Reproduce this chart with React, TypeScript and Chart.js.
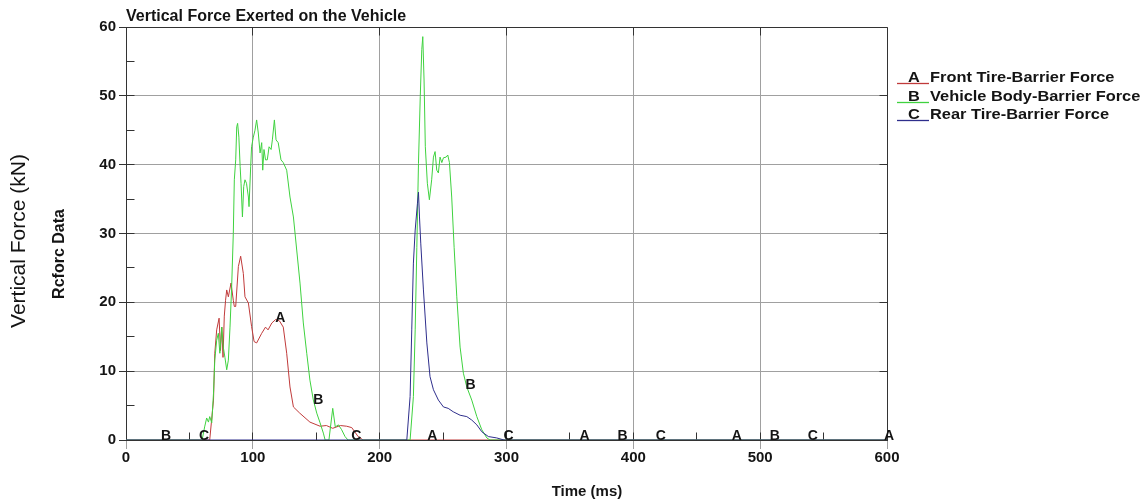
import React, { useEffect, useRef } from "react";
import { Chart, registerables } from "chart.js";

Chart.register(...registerables);

const FONT = "'Liberation Sans', Arial, Helvetica, sans-serif";

// ---- Data (time in ms, force in kN) ----
const frontTime = [0, 66, 69, 70, 71.5, 73.4, 74.5, 75.5, 76.5, 77.5, 78.5, 79.4, 80.7, 82.8, 84.6, 85.4, 86.5, 88.6, 90.4, 92.5, 93.8, 96.5, 99, 101, 103, 107, 110, 112, 115, 118, 121, 124, 126.7, 129.3, 132, 137, 145, 153, 158, 163, 169, 174, 178, 183, 187, 600];
const frontForce = [0, 0, 5.8, 12.6, 16, 17.7, 13, 16.4, 12, 18, 20.3, 21.8, 20.8, 22.8, 20.3, 19.4, 19.4, 25.2, 26.7, 24.2, 20.8, 19.9, 16.5, 14.3, 14.1, 15.5, 16.4, 16, 17, 17.5, 17.3, 16.4, 12.6, 7.7, 4.8, 3.9, 2.6, 2.0, 2.1, 1.7, 2.1, 2.0, 1.8, 0.5, 0, 0];

const bodyTime = [0, 60, 62, 63.6, 65, 66, 67.6, 69, 70, 71.5, 72.8, 74, 75.5, 76.7, 78, 79.4, 80.7, 82, 83.3, 84.6, 85.4, 86.5, 87.3, 88, 89, 90, 90.7, 91.8, 92.8, 93.8, 95, 96.5, 97, 98.3, 99, 100.4, 101.7, 103, 104.3, 105.7, 107, 107.8, 108.8, 110, 111.4, 112.8, 114.4, 115.4, 117, 118.3, 120, 122.2, 124, 126.7, 129.3, 132, 134.6, 137.2, 139.8, 142.5, 145, 147.7, 150.4, 153, 155.6, 157, 160, 163, 165, 167.5, 170, 172.7, 175, 224, 226.6, 228, 229.3, 230.6, 232, 233.2, 234, 235, 236, 237.6, 239.2, 241, 242.4, 243.7, 245, 246.3, 247.6, 249, 250.3, 252.4, 253.7, 255, 256.8, 258.7, 260.8, 263.4, 266, 268.7, 272.6, 276.6, 280.5, 284.5, 287, 600];
const bodyForce = [0, 0, 1.9, 3.2, 2.6, 3.4, 2.5, 6.8, 11.6, 14.5, 15.5, 12.6, 16.4, 13.5, 12, 10.2, 11.6, 16.4, 22.2, 30, 37.8, 40.7, 45.5, 46, 44, 39.7, 37.3, 32.4, 36.8, 37.8, 37.3, 35.3, 33.9, 39.7, 42.6, 44, 45, 46.5, 44.6, 41.7, 43.2, 39.2, 42.2, 40.7, 40.7, 42.6, 42.2, 43.6, 46.5, 43.6, 43.2, 40.7, 40.3, 39.2, 35.3, 32.4, 27.6, 22.8, 17, 12.6, 8.7, 5.8, 3.9, 2.5, 1.0, 0, 0, 4.6, 1.9, 2.2, 1.5, 0.5, 0, 0, 6.3, 16, 28, 40.2, 49.9, 56.7, 58.6, 52.3, 42.6, 37.3, 34.9, 37.8, 41.1, 41.9, 39.2, 38.8, 41.1, 40.3, 41, 41.1, 41.4, 40.3, 35.3, 28, 20.8, 13.5, 9.7, 7.7, 5.8, 3.4, 1.5, 0.3, 0, 0];

const rearTime = [0, 221.4, 224, 225.3, 226.6, 228, 229.8, 230.6, 231.4, 232.4, 234.5, 237.2, 239.7, 242.4, 246.3, 250.3, 254, 258, 263.4, 268.7, 272.6, 276.6, 280.5, 285.7, 292.3, 298, 600];
const rearForce = [0, 0, 6.3, 16, 25.7, 30.5, 34.4, 36, 32.4, 28.6, 21.8, 14.1, 9.2, 7.3, 5.8, 4.8, 4.6, 4.1, 3.6, 3.4, 2.9, 2.2, 1.2, 0.5, 0.3, 0, 0];

const seriesLetters = ["A", "B", "C"];
const seriesNames = ["Front Tire-Barrier Force", "Vehicle Body-Barrier Force", "Rear Tire-Barrier Force"];
const seriesColors = ["#c03a3a", "#3fd23f", "#2e2e8c"];

// symbol labels placed along each curve (time, level of label foot)
const markerTimesA = [120, 240, 360, 480, 600];
const markerLevelsA = [17.0, 0, 0, 0, 0];
const markerTimesB = [30, 150, 270, 390, 510];
const markerLevelsB = [0, 5.2, 7.3, 0, 0];
const markerTimesC = [60, 180, 300, 420, 540];
const markerLevelsC = [0, 0, 0, 0, 0];

const xMin = 0, xMax = 600, xStep = 100, xMinorStep = 50;
const yMin = 0, yMax = 60, yStep = 10, yMinorStep = 5;

const titleText = "Vertical Force Exerted on the Vehicle";
const yTitleOuter = "Vertical Force (kN)";
const yTitleInner = "Rcforc Data";
const xTitleText = "Time (ms)";

const TEXT = "#141414";
const FRAME = "#333333";
const GRID = "#a0a0a0";

function align(p: number) {
  return Math.round(p - 0.5) + 0.5;
}

const framePlugin = {
  id: "frameTicks",
  beforeDatasetsDraw(chart: any) {
    const { ctx, chartArea: a, scales } = chart;
    const x = scales.x, y = scales.y;
    const L = align(a.left), R = align(a.right), T = align(a.top), B = align(a.bottom);
    ctx.save();
    ctx.strokeStyle = FRAME;
    ctx.lineWidth = 1;
    ctx.beginPath();
    ctx.moveTo(L, T); ctx.lineTo(R, T); ctx.lineTo(R, B); ctx.lineTo(L, B); ctx.closePath();
    ctx.stroke();
    const tl = 8;
    ctx.beginPath();
    for (let v = yMin + yMinorStep; v < yMax; v += yMinorStep) {
      const py = align(y.getPixelForValue(v));
      ctx.moveTo(L, py); ctx.lineTo(L + tl, py);
      if (v % yStep === 0) { ctx.moveTo(R, py); ctx.lineTo(R - tl, py); }
    }
    for (let v = xMin + xMinorStep; v < xMax; v += xMinorStep) {
      const px = align(x.getPixelForValue(v));
      ctx.moveTo(px, B); ctx.lineTo(px, B - tl);
      if (v % xStep === 0) { ctx.moveTo(px, T); ctx.lineTo(px, T + tl); }
    }
    ctx.stroke();
    ctx.restore();
  },
  afterDraw(chart: any) {
    const { ctx, scales } = chart;
    const x = scales.x, y = scales.y;
    ctx.save();
    ctx.fillStyle = TEXT;
    // title
    ctx.font = `bold 16px ${FONT}`;
    ctx.textAlign = "left";
    ctx.textBaseline = "alphabetic";
    ctx.fillText(titleText, 126, 21);
    // x title
    ctx.font = `bold 15px ${FONT}`;
    ctx.textAlign = "center";
    ctx.fillText(xTitleText, 587, 496);
    // y titles
    ctx.save();
    ctx.translate(25, 241);
    ctx.rotate(-Math.PI / 2);
    ctx.font = `21px ${FONT}`;
    ctx.textAlign = "center";
    ctx.fillText(yTitleOuter, 0, 0);
    ctx.restore();
    ctx.save();
    ctx.translate(64, 254);
    ctx.rotate(-Math.PI / 2);
    ctx.font = `bold 16px ${FONT}`;
    ctx.textAlign = "center";
    ctx.fillText(yTitleInner, 0, 0);
    ctx.restore();
    // curve symbol letters
    const markers = [
      [markerTimesA, markerLevelsA],
      [markerTimesB, markerLevelsB],
      [markerTimesC, markerLevelsC],
    ];
    ctx.font = `bold 14px ${FONT}`;
    ctx.textAlign = "center";
    markers.forEach((m, i) => {
      const [ts, ls] = m;
      ts.forEach((t, k) => {
        ctx.fillText(seriesLetters[i], x.getPixelForValue(t) + 2, y.getPixelForValue(ls[k]) - 0.5);
      });
    });
    // legend
    const baselines = [82, 101, 119];
    seriesNames.forEach((name, i) => {
      const b = baselines[i];
      ctx.strokeStyle = seriesColors[i];
      ctx.lineWidth = 1.3;
      ctx.beginPath();
      ctx.moveTo(897, b + 1.5);
      ctx.lineTo(929, b + 1.5);
      ctx.stroke();
      ctx.fillStyle = TEXT;
      ctx.font = `bold 14px ${FONT}`;
      ctx.textAlign = "left";
      ctx.save();
      ctx.translate(908, b);
      ctx.scale(1.17, 1);
      ctx.fillText(seriesLetters[i], 0, 0);
      ctx.restore();
      ctx.save();
      ctx.translate(930, b);
      ctx.scale(1.17, 1);
      ctx.fillText(name, 0, 0);
      ctx.restore();
    });
    ctx.restore();
  },
};

function toPoints(ts: number[], vs: number[]) {
  return ts.map((t, i) => ({ x: t, y: vs[i] }));
}

export default function App() {
  const ref = useRef<HTMLCanvasElement | null>(null);
  useEffect(() => {
    if (!ref.current) return;
    const chart = new Chart(ref.current, {
      type: "line",
      data: {
        datasets: [
          { label: seriesNames[0], data: toPoints(frontTime, frontForce), borderColor: seriesColors[0], order: 3 },
          { label: seriesNames[1], data: toPoints(bodyTime, bodyForce), borderColor: seriesColors[1], order: 2 },
          { label: seriesNames[2], data: toPoints(rearTime, rearForce), borderColor: seriesColors[2], order: 1 },
        ].map((d) => ({ ...d, borderWidth: 1, pointRadius: 0, tension: 0, fill: false })),
      },
      options: {
        animation: false,
        responsive: false,
        devicePixelRatio: 1,
        layout: { padding: { left: 0, right: 260, top: 27, bottom: 0 } },
        plugins: { legend: { display: false }, tooltip: { enabled: false }, title: { display: false } },
        scales: {
          x: {
            type: "linear",
            min: xMin,
            max: xMax,
            afterFit: (s: any) => { s.height = 62; },
            ticks: { stepSize: xStep, color: TEXT, font: { family: FONT, size: 15, weight: "bold" }, padding: 0, maxRotation: 0 },
            grid: { color: GRID, tickColor: GRID, tickLength: 9 },
            border: { color: FRAME },
          },
          y: {
            min: yMin,
            max: yMax,
            afterFit: (s: any) => { s.width = 126; },
            ticks: { stepSize: yStep, color: TEXT, font: { family: FONT, size: 15, weight: "bold" }, padding: 3 },
            grid: { color: GRID, tickColor: FRAME, tickLength: 7 },
            border: { color: FRAME },
          },
        },
      },
      plugins: [framePlugin],
    } as any);
    return () => chart.destroy();
  }, []);
  return (
    <div style={{ position: "absolute", left: 0, top: 0, width: 1147, height: 502, background: "#fff" }}>
      <canvas ref={ref} width={1147} height={502} style={{ display: "block" }} />
    </div>
  );
}
